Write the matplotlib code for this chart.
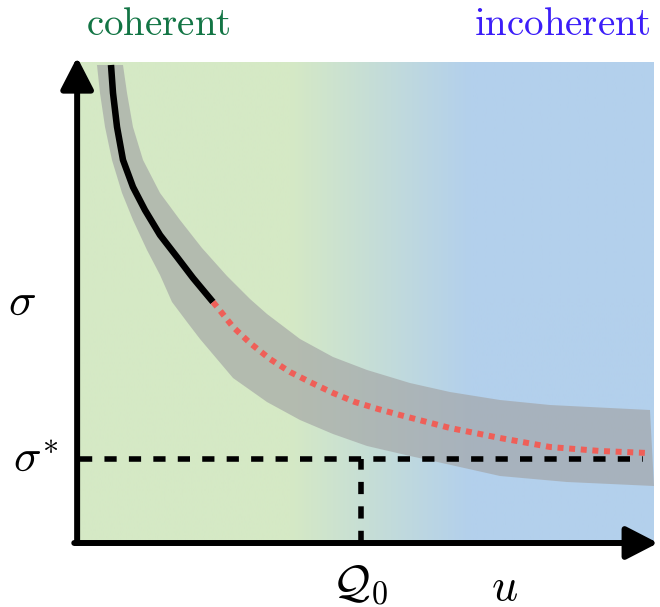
import numpy as np
import matplotlib
matplotlib.use("Agg")
import matplotlib.pyplot as plt
from matplotlib.colors import LinearSegmentedColormap

plt.rcParams['mathtext.fontset'] = 'cm'
plt.rcParams['font.family'] = ['DejaVu Serif']

# ---- data (abstract units: u in [0,10], sigma in [0,10]) ----
coherent_u = [0.540, 0.575, 0.645, 0.749, 0.923, 1.132, 1.394, 1.690, 1.969, 2.317]
coherent_s = [9.938, 9.356, 8.649, 7.963, 7.401, 6.921, 6.403, 5.946, 5.509, 5.010]

incoherent_u = [2.317, 2.404, 2.666, 2.962, 3.310, 3.659, 4.042, 4.408, 4.791, 5.192,
                5.575, 6.446, 7.317, 8.188, 9.059, 9.895]
incoherent_s = [5.010, 4.886, 4.491, 4.158, 3.825, 3.555, 3.326, 3.119, 2.931, 2.786,
                2.661, 2.391, 2.183, 1.996, 1.913, 1.871]

band_upper_u = [0.749, 0.819, 0.923, 1.098, 1.394, 1.742, 2.125, 2.561, 2.962, 3.258,
                3.833, 4.408, 5.000, 5.749, 6.446, 7.317, 8.188, 9.930]
band_upper_s = [9.938, 9.356, 8.649, 7.963, 7.277, 6.715, 6.133, 5.551, 5.073, 4.761,
                4.241, 3.867, 3.597, 3.326, 3.139, 2.973, 2.869, 2.765]
band_lower_u = [0.296, 0.348, 0.436, 0.557, 0.732, 0.923, 1.167, 1.394, 1.603, 1.864,
                2.091, 2.666, 3.258, 3.833, 4.408, 5.000, 5.749, 6.150, 7.317, 8.484, 10.0]
band_lower_s = [9.938, 9.356, 8.649, 7.963, 7.277, 6.715, 6.091, 5.572, 5.010, 4.595,
                4.241, 3.430, 2.931, 2.557, 2.266, 2.017, 1.809, 1.705, 1.393, 1.268, 1.185]

sigma_star = 1.746
Q0 = 4.895
dash_end = 9.8

bg_stops = [0.0, 0.366, 0.68, 1.0]
bg_colors = ['#d5e9c5', '#d5e9c5', '#b3d0ec', '#b3d0ec']

region_labels = [r'$\mathrm{coherent}$', r'$\mathrm{incoherent}$']
region_colors = ['#137545', '#3c1ef8']

# ---- figure ----
W, H = 660, 607
fig = plt.figure(figsize=(W / 100, H / 100), dpi=100)
ax = fig.add_axes([80 / W, (H - 543) / H, (654 - 80) / W, (543 - 62) / H])
ax.set_xlim(0, 10)
ax.set_ylim(0, 10)
ax.axis('off')

cmap = LinearSegmentedColormap.from_list('bg', list(zip(bg_stops, bg_colors)))
grad = np.linspace(0, 1, 512)[None, :]
ax.imshow(grad, cmap=cmap, extent=(0, 10, 0, 10), aspect='auto', zorder=0)

band_u = np.concatenate([band_upper_u, band_lower_u[::-1]])
band_s = np.concatenate([band_upper_s, band_lower_s[::-1]])
ax.fill(band_u, band_s, color='#a2a3a4', alpha=0.65, lw=0, zorder=1)

ax.plot(coherent_u, coherent_s, color='black', lw=4.7, solid_capstyle='butt',
        solid_joinstyle='round', zorder=3)
ax.plot(incoherent_u, incoherent_s, color='#ef5f58', lw=4.3, dashes=(1, 0.95),
        dash_capstyle='butt', zorder=3)

ax.plot([0, dash_end], [sigma_star, sigma_star], color='black', lw=4.0,
        dashes=(2.2, 2.2), dash_capstyle='butt', zorder=4)
ax.plot([Q0, Q0], [0, sigma_star], color='black', lw=4.0,
        dashes=(2.2, 2.2), dash_capstyle='butt', zorder=4)

arrow_kw = dict(arrowstyle='-|>,head_length=0.97,head_width=0.5', color='black',
                lw=4.3, mutation_scale=20, shrinkA=0, shrinkB=0)
ax.annotate('', xy=(-0.05, 10.1), xytext=(-0.05, 0.0), arrowprops=arrow_kw,
            annotation_clip=False, zorder=5)
ax.annotate('', xy=(10.07, 0.0), xytext=(-0.1, 0.0), arrowprops=arrow_kw,
            annotation_clip=False, zorder=5)

ax.text(1.36, 10.77, region_labels[0], color=region_colors[0], fontsize=28,
        ha='center', va='center', clip_on=False)
ax.text(8.40, 10.77, region_labels[1], color=region_colors[1], fontsize=28,
        ha='center', va='center', clip_on=False)

ax.text(-1.01, 5.01, r'$\sigma$', fontsize=33, ha='center', va='center', clip_on=False)
ax.text(-0.36, 1.75, r'$\sigma^{\!*}$', fontsize=33, ha='right', va='center', clip_on=False)
ax.text(4.88, -0.87, r'$\mathcal{Q}_0$', fontsize=33, ha='center', va='center', clip_on=False)
ax.text(7.40, -0.92, r'$u$', fontsize=33, ha='center', va='center', clip_on=False)

fig.savefig('out.png', dpi=100)
